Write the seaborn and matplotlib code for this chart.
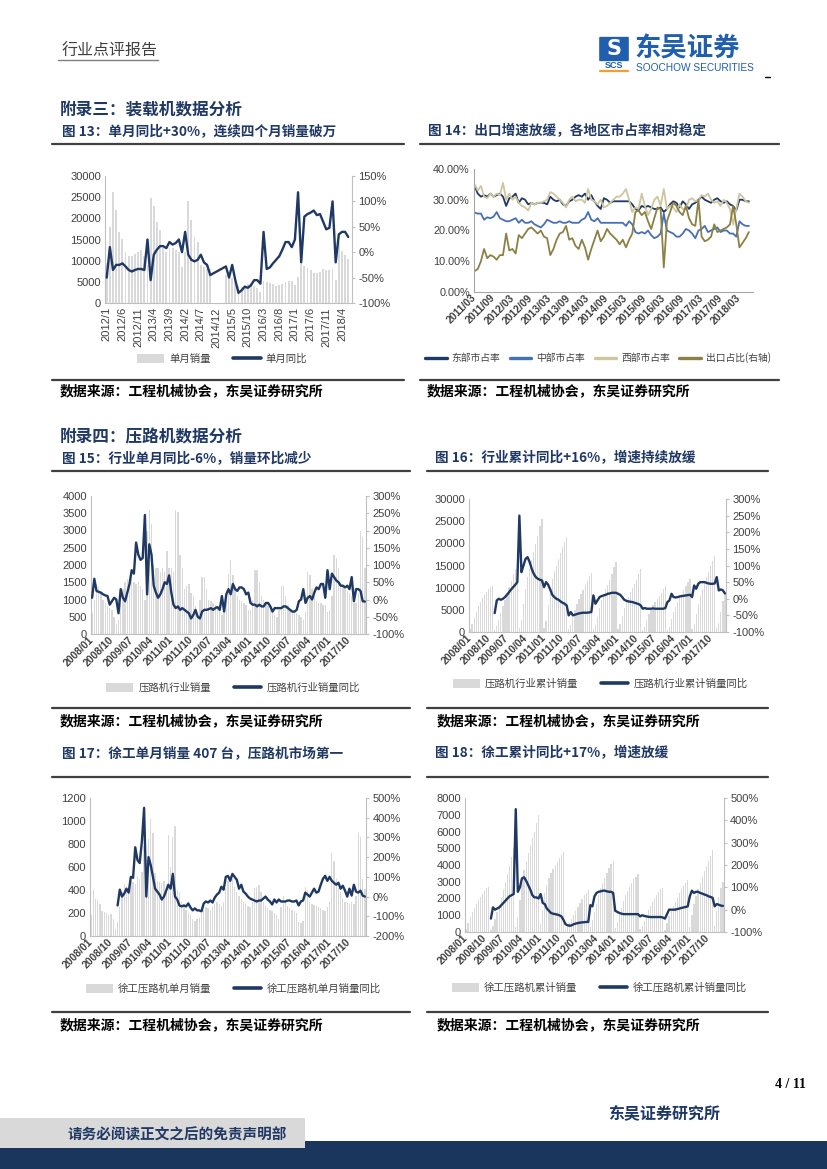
import numpy as np
import pandas as pd
import seaborn as sns
import matplotlib
matplotlib.use('Agg')
import matplotlib.pyplot as plt
from matplotlib.patches import Patch, Rectangle, FancyBboxPatch
from matplotlib.lines import Line2D
from matplotlib import font_manager

nan = np.nan

# ---------------- chart 13: loader single month sales / yoy (2012/1 - 2018/6)
c13_sales = [
    9500, 18000, 26300, 22000, 16800, 15200, 12000, 11000, 11200, 11500, 12000, 12500,
    11000, 9000, 24700, 22800, 19200, 17200, 13000, 12000, 13000, 13000, 12500, 12000,
    8500, 12000, 24000, 19500, 15500, 14500, 9000, 8500, 8000, 8000, nan, nan,
    nan, nan, 6500, 6500, 5800, 5000, 4000, 3800, 4200, 4500, 4800, 4000,
    3500, 2500, 5200, 5000, 4700, 4500, 4000, 4200, 4600, 5000, 5300, 5200,
    4200, 6200, 9200, 8700, 8200, 7900, 7000, 7100, 7400, 8000, 7800, 7700,
    8000, 5400, 14500, 12300, 11300, 10400]
c13_yoy = [
    -50, 10, -35, -25, -25, -22, -28, -35, -38, -35, -33, -33,
    -35, 25, -55, -5, 5, 12, 12, 8, 20, 15, 18, 25,
    0, 40, -5, -15, -18, -15, -5, -20, -25, -45, nan, nan,
    nan, nan, -28, -50, -25, -55, -80, -75, -68, -70, -65, -55,
    -55, -62, 40, -33, -30, -22, -15, -8, 5, 20, 20, 10,
    25, 118, -20, 70, 75, 78, 82, 73, 75, 60, 45, 48,
    100, -20, 35, 40, 40, 30]
c13_labels = ['2012/1', '2012/6', '2012/11', '2013/4', '2013/9', '2014/2', '2014/7', '2014/12',
              '2015/5', '2015/10', '2016/3', '2016/8', '2017/1', '2017/6', '2017/11', '2018/4']

# ---------------- chart 14: regional shares (2011/03 - 2018/06), in %
c14_east = [
    34.5, 32.0, 31.0, 31.5, 31.0, 32.0, 31.0, 31.5, 32.0, 31.0,
    28.0, 30.5, 31.0, 32.0, 29.0, 30.5, 30.0, 28.5, 29.0, 28.5, 29.0, 29.0,
    29.0, 28.5, 31.0, 30.0, 29.5, 30.0, 28.5, 28.0, 29.5, 30.0, 31.0, 31.5,
    31.0, 32.0, 30.0, 31.5, 29.5, 28.0, 27.0, 30.5, 30.0, 29.0, 29.5, 29.5,
    29.5, 29.5, 29.5, 29.5, 28.5, 27.0, 26.5, 28.0, 27.5, 28.0, 27.5, 27.0,
    27.0, 27.5, 26.0, 27.0, 28.5, 29.5, 29.0, 27.5, 29.5, 28.5, 27.0, 28.5,
    29.0, 30.0, 31.0, 30.0, 29.5, 29.0, 30.0, 30.5, 29.5, 29.0, 29.5, 28.5,
    28.0, 26.5, 30.0, 30.0, 29.5, 29.5]
c14_middle = [
    25.8, 25.5, 25.5, 23.5, 24.3, 24.0, 24.5, 26.0, 24.0, 23.5,
    23.0, 23.0, 23.5, 24.0, 22.5, 23.5, 22.5, 22.5, 23.0, 22.0, 21.5, 21.0,
    22.0, 23.5, 23.0, 22.5, 22.5, 23.0, 22.5, 22.5, 23.0, 22.5, 22.5, 22.5,
    23.5, 24.0, 26.0, 23.5, 23.0, 24.0, 22.5, 22.5, 22.5, 22.5, 22.5, 22.5,
    22.5, 22.5, 21.5, 23.0, 22.0, 19.5, 19.0, 19.5, 19.0, 20.0, 18.5, 17.5,
    18.0, 19.0, 25.5, 20.0, 19.5, 19.0, 18.0, 18.0, 19.0, 20.5, 20.0, 19.0,
    17.5, 20.0, 20.5, 21.5, 19.5, 20.0, 20.5, 21.0, 19.5, 20.0, 20.0, 19.0,
    19.0, 18.0, 23.0, 22.0, 21.5, 21.5]
c14_west = [
    35.0, 33.0, 34.5, 31.0, 30.5, 32.0, 31.0, 32.0, 31.5, 35.5,
    30.0, 32.0, 30.0, 31.0, 29.0, 28.0, 27.5, 26.5, 29.0, 28.5, 29.0, 29.0,
    29.5, 30.0, 32.5, 32.0, 31.0, 30.0, 29.0, 27.5, 30.0, 31.0, 29.5, 30.0,
    30.0, 29.0, 33.5, 30.0, 29.5, 28.5, 30.0, 27.5, 28.0, 29.0, 30.0, 31.0,
    31.0, 32.0, 33.5, 30.0, 26.0, 27.5, 27.0, 32.0, 28.0, 25.0, 27.0, 30.0,
    31.0, 28.0, 33.5, 27.0, 28.0, 27.5, 26.0, 28.5, 27.0, 27.0, 30.0, 30.5,
    29.5, 30.0, 31.5, 31.0, 32.0, 30.0, 29.0, 29.5, 28.0, 30.0, 29.0, 27.0,
    22.0, 27.0, 32.0, 31.0, 29.5, 29.0]
c14_export = [
    6.8, 7.5, 10.0, 14.0, 11.0, 12.0, 11.5, 10.5, 12.0, 12.0,
    19.0, 13.5, 14.0, 12.5, 18.5, 17.5, 19.0, 20.5, 21.0, 20.0, 19.0, 20.0,
    18.0, 17.5, 12.0, 14.0, 17.0, 19.0, 19.5, 21.5, 17.0, 17.5, 15.0, 14.0,
    17.0, 14.5, 10.5, 14.0, 17.0, 20.0, 16.5, 18.0, 20.5, 19.0, 18.0, 17.0,
    15.5, 17.0, 14.5, 17.0, 19.0, 26.0, 26.5, 25.0, 26.0, 23.0, 20.5, 24.0,
    27.5, 27.0, 8.0, 23.0, 26.0, 29.0, 28.0, 26.0, 25.0, 28.0, 24.0, 22.0,
    21.5, 30.0, 18.0, 16.5, 17.0, 18.0, 22.0, 19.5, 20.0, 20.5, 21.0, 22.0,
    28.0, 22.0, 14.5, 16.0, 17.5, 19.5]
c14_names = ['东部市占率', '中部市占率', '西部市占率', '出口占比(右轴)']
c14_labels = ['2011/03', '2011/09', '2012/03', '2012/09', '2013/03', '2013/09', '2014/03', '2014/09',
              '2015/03', '2015/09', '2016/03', '2016/09', '2017/03', '2017/09', '2018/03']

# ---------------- roller charts (2008/01 - 2018/05)
roller_labels = ['2008/01', '2008/10', '2009/07', '2010/04', '2011/01', '2011/10', '2012/07',
                 '2013/04', '2014/01', '2014/10', '2015/07', '2016/04', '2017/01', '2017/10']

c15_sales = [
    600, 1000, 1450, 1400, 1200, 1000, 900, 800, 750, 700, 500, 300,
    400, 900, 1300, 1500, 1600, 1500, 1600, 1500, 1450, 1500, 1400, 1300,
    1000, 3000, 3600, 3200, 2000, 1900, 1900, 1800, 1900, 1800, 2400, 1900,
    1900, 1800, 3600, 3550, 2300, 1900, 1300, 1400, 1450, 1200, 1100, 800,
    500, 1000, 1650, 1650, 1300, 1000, 950, 900, 850, 800, 700, 550,
    600, 1000, 1750, 2150, 1700, 1300, 1100, 1000, 950, 900, 850, 700,
    700, 1000, 1850, 1850, 1500, 1100, 1000, 900, 800, 800, 700, 550,
    500, 700, 1400, 1400, 1100, 850, 700, 650, 650, 600, 550, 500,
    400, 650, 1800, 1700, 1300, 1100, 950, 900, 900, 850, 850, 650,
    700, 1100, 2300, 2200, 1900, 1500, 1350, 1300, 1250, 1200, 1100, 900,
    900, 1200, 3000, 2800, 1900]
c15_yoy = [
    5, 60, 25, 22, 20, 15, 12, 10, -15, -5, 5, 0,
    -40, 30, 5, -5, 20, 45, 85, 75, 165, 130, 115, 120,
    245, 15, 160, 130, 40, 20, 5, 15, 30, 50, 45, 70,
    20, -15, -25, -20, -30, -25, -30, -35, -40, -55, -45, -30,
    -50, -55, -35, -30, -30, -28, -25, -30, -25, -22, -30, 10,
    -35, 15, 30, 15, 45, 30, 25, 35, 35, 30, 15, 20,
    -10, -15, -15, -20, -15, -20, -20, -10, -10, -20, -35, -25,
    -25, -25, -25, -20, -20, -25, -30, -35, -35, -30, -5, 0,
    30, -10, 5, 10, 0, 20, 35, 30, 45, 45, 5, 85,
    30, 75, 65, 55, 50, 40, 40, 35, 40, 30, 65, -5,
    30, 30, 25, -5, -6]

c16_cum = [
    600, 1700, 3200, 4600, 5800, 6800, 7600, 8300, 9000, 9600, 10100, 10400,
    400, 1300, 2700, 4200, 5800, 7300, 8800, 10200, 11600, 13000, 14300, 15500,
    1000, 2800, 6400, 9600, 12400, 14300, 16200, 18000, 19900, 21700, 23800, 25500,
    900, 2500, 6100, 9600, 11900, 13700, 15000, 16400, 17800, 19100, 20400, 21500,
    600, 1600, 3300, 5000, 6400, 7500, 8500, 9500, 10500, 11600, 12600, 13400,
    600, 1600, 3400, 5500, 7200, 8500, 9600, 10700, 11800, 13100, 14600, 15900,
    700, 1700, 3600, 5400, 6900, 8000, 9000, 9900, 10800, 11800, 13000, 14100,
    500, 1200, 2600, 4000, 5100, 6000, 6700, 7400, 8100, 8900, 9700, 10400,
    400, 1100, 2900, 4500, 5700, 6700, 7600, 8500, 9400, 10300, 11200, 12000,
    700, 1800, 4100, 6300, 8200, 9700, 11000, 12300, 13600, 14800, 16000, 17200,
    900, 2100, 4500, 7000, 8700]
c16_yoy = [
    nan, nan, nan, nan, nan, nan, nan, nan, nan, nan, nan, nan,
    -43, -5, 0, -3, 0, 5, 12, 20, 28, 35, 42, 50,
    250, 80, 100, 120, 125, 110, 90, 75, 65, 60, 57, 55,
    35, 50, 42, 28, 12, 5, 0, -3, -8, -12, -15, -20,
    -50, -40, -50, -48, -46, -44, -43, -42, -42, -42, -41, -40,
    10, -15, -5, 5, 8, 10, 12, 15, 16, 18, 18, 18,
    15, 12, 5, -3, -6, -8, -9, -10, -12, -14, -16, -20,
    -30, -28, -30, -30, -30, -29, -30, -30, -30, -30, -30, -28,
    -10, -5, 15, 5, 4, 5, 7, 8, 9, 10, 11, 12,
    5, 40, 30, 45, 50, 50, 50, 48, 46, 45, 45, 46,
    65, 25, 28, 25, 16]

c17_sales = [
    180, 400, 320, 310, 280, 220, 210, 200, 180, 190, 150, 60,
    120, 250, 380, 450, 430, 420, 480, 470, 450, 520, 500, 560,
    780, 660, 840, 1020, 900, 550, 480, 470, 460, 480, 450, 880,
    600, 860, 960, 400, 380, 300, 260, 230, 200, 180, 150, 130,
    150, 160, 200, 230, 250, 240, 230, 250, 280, 300, 280, 260,
    300, 420, 480, 520, 500, 430, 380, 350, 320, 300, 280, 260,
    250, 300, 420, 430, 440, 380, 300, 260, 240, 230, 220, 200,
    180, 150, 250, 350, 300, 260, 240, 230, 220, 200, 120, 110,
    130, 430, 400, 300, 280, 270, 260, 250, 240, 230, 220, 250,
    300, 720, 650, 500, 420, 380, 330, 300, 290, 280, 300, 280,
    350, 900, 860, 500, 407]
c17_yoy = [
    nan, nan, nan, nan, nan, nan, nan, nan, nan, nan, nan, nan,
    -45, 35, 0, 15, 40, 20, 100, 95, 250, 185, 170, 280,
    450, 0, 200, 160, 100, 40, 25, 10, -15, 0, 30, 60,
    40, 115, 0, -15, -45, -50, -45, -50, -35, -55, -70, -60,
    -70, -70, -75, -35, -25, -30, -20, -30, -5, 10, 20, 50,
    35, 100, 105, 80, 115, 100, 85, 40, 60, 25, 15, 0,
    -10, -15, -20, -25, -20, -20, -10, 0, -15, -25, -40, -15,
    -30, -15, -25, -25, -25, -20, -20, -25, -25, -20, -45, -25,
    -20, 20, 10, 0, 20, 40, 20, 25, 60, 90, 105, 80,
    100, 80, 70, 60, 70, 40, 55, 30, 0, 40, 5, 60,
    25, 20, 30, 5, 0]

c18_cum = [
    180, 550, 900, 1200, 1450, 1700, 1900, 2100, 2250, 2450, 2600, 2700,
    120, 370, 750, 1200, 1630, 2050, 2530, 3000, 3450, 3970, 4470, 5030,
    300, 900, 1900, 2900, 3700, 4200, 4700, 5200, 5600, 6000, 6500, 7000,
    500, 1300, 2300, 2800, 3200, 3500, 3750, 4000, 4200, 4400, 4600, 4800,
    150, 320, 530, 780, 1030, 1270, 1500, 1750, 2000, 2200, 2350, 2500,
    300, 700, 1200, 1700, 2200, 2600, 2950, 3250, 3550, 3800, 4050, 4250,
    250, 600, 1000, 1450, 1850, 2200, 2450, 2700, 2950, 3150, 3300, 3450,
    150, 350, 650, 1000, 1300, 1550, 1800, 2000, 2200, 2400, 2550, 2650,
    130, 550, 950, 1250, 1550, 1800, 2050, 2300, 2550, 2750, 2950, 3100,
    300, 1000, 1650, 2150, 2550, 2950, 3300, 3650, 3950, 4250, 4550, 4900,
    350, 1250, 2100, 2600, 3000]
c18_yoy = [
    nan, nan, nan, nan, nan, nan, nan, nan, nan, nan, nan, nan,
    -40, 10, 0, 5, 10, 20, 30, 40, 50, 60, 65, 70,
    450, 80, 100, 140, 145, 130, 110, 90, 65, 55, 55, 50,
    70, 30, 25, 5, -5, -15, -18, -20, -22, -25, -30, -45,
    -65, -70, -72, -70, -65, -62, -60, -58, -57, -56, -55, -55,
    20, 15, 60, 75, 80, 82, 85, 85, 82, 80, 80, 75,
    -5, -10, -15, -18, -20, -20, -20, -20, -20, -20, -20, -20,
    -30, -25, -28, -30, -32, -33, -33, -33, -33, -33, -33, -35,
    -40, -20, 0, 0, 0, 0, 3, 5, 8, 10, 12, 15,
    60, 85, 75, 80, 80, 75, 72, 68, 65, 60, 57, 53,
    15, 25, 22, 18, 17]

SOURCE = '数据来源：工程机械协会，东吴证券研究所'

# ---------------- style
GREY = '#d9d9d9'
NAVY = '#1f3864'
AXIS = '#bfbfbf'
TXT = '#404040'
C14_COLORS = {'东部市占率': '#1f3864', '中部市占率': '#4770b3',
              '西部市占率': '#cdc6a0', '出口占比(右轴)': '#8c8045'}

sns.set_style('white')
names = {f.name for f in font_manager.fontManager.ttflist}
NUM = 'Liberation Sans Narrow' if 'Liberation Sans Narrow' in names else 'Liberation Sans'
CJK = 'Noto Sans CJK SC'
plt.rcParams['font.family'] = [NUM, CJK, 'DejaVu Sans']

W, H = 827, 1169
fig = plt.figure(figsize=(W / 100, H / 100), dpi=100)


def box(l, t, r, b):
    return [l / W, 1 - b / H, (r - l) / W, (b - t) / H]


def put(x, y, s, size, color='black', weight='normal', ha='left', family=None):
    fig.text(x / W, 1 - y / H, s, fontsize=size, color=color, fontweight=weight,
             ha=ha, va='center', family=family or [CJK])


def hline(x0, x1, y, color='#404040', lw=1.6):
    fig.add_artist(Line2D([x0 / W, x1 / W], [1 - y / H, 1 - y / H], color=color, lw=lw))


def block(l, t, r, b, color, z=0):
    fig.add_artist(Rectangle((l / W, 1 - b / H), (r - l) / W, (b - t) / H,
                             facecolor=color, edgecolor='none', zorder=z))


def legend(handles, labels, cx, cy, ncol, size, hl=2.6, cs=2.2):
    fig.legend(handles, labels, loc='center', bbox_to_anchor=(cx / W, 1 - cy / H),
               ncol=ncol, frameon=False, prop={'family': CJK, 'size': size},
               labelcolor=TXT, handlelength=hl, handleheight=0.9,
               columnspacing=cs, handletextpad=0.5)


def dual_chart(pos, bars, line, ylim, ystep, y2lim, y2step, step, labels, rot,
               xfs, yfs, xlim, leg_names, leg_xy, xbold=True):
    ax = fig.add_axes(box(*pos))
    k = np.arange(len(bars))
    bdf = pd.DataFrame({'k': k, 'v': bars}).dropna()
    sns.barplot(data=bdf, x='k', y='v', native_scale=True, width=0.6, color=GREY,
                saturation=1, errorbar=None, linewidth=0, ax=ax)
    ax2 = ax.twinx()
    ldf = pd.DataFrame({'k': k, 'v': line}).dropna()
    sns.lineplot(data=ldf, x='k', y='v', color=NAVY, linewidth=1.7, errorbar=None, ax=ax2)

    ax.set_xlim(*xlim)
    ax.set_ylim(*ylim)
    ax2.set_ylim(*y2lim)
    yt = np.arange(ylim[0], ylim[1] + 1, ystep)
    ax.set_yticks(yt)
    ax.set_yticklabels([f'{v:d}' for v in yt])
    y2t = np.arange(y2lim[0], y2lim[1] + 1, y2step)
    ax2.set_yticks(y2t)
    ax2.set_yticklabels([f'{v:d}%' for v in y2t])
    ax.set_xticks(np.arange(len(labels)) * step)
    ax.set_xticklabels(labels, rotation=rot, ha='right', va='center', rotation_mode='anchor',
                       fontsize=xfs, color=TXT, fontweight='bold' if xbold else 'normal')
    for a in (ax, ax2):
        a.set_xlabel('')
        a.set_ylabel('')
        a.spines['top'].set_visible(False)
    ax.spines['right'].set_visible(False)
    ax.spines['left'].set_color(AXIS)
    ax.spines['bottom'].set_color(AXIS)
    ax2.spines['left'].set_visible(False)
    ax2.spines['bottom'].set_visible(False)
    ax2.spines['right'].set_color(AXIS)
    ax.tick_params(axis='y', length=0, labelsize=yfs, labelcolor=TXT, pad=3)
    ax.tick_params(axis='x', length=0, pad=3)
    ax2.tick_params(axis='y', length=2.5, color=AXIS, labelsize=yfs, labelcolor=TXT, pad=2)

    handles = [Patch(facecolor=GREY, edgecolor='none'), Line2D([], [], color=NAVY, lw=2.6)]
    legend(handles, leg_names, leg_xy[0], leg_xy[1], 2, 7.5)
    return ax, ax2


# ---------------- page header
put(62, 51, '行业点评报告', 11.5, color='#404040')
hline(58, 158, 60, color='#7f7f7f', lw=1.0)
fig.add_artist(FancyBboxPatch((600 / W, 1 - 60 / H), 28 / W, 22 / H,
                              boxstyle='round,pad=0.001', facecolor='#1f5fae', edgecolor='none'))
put(614, 49, 'S', 15, color='white', weight='bold', ha='center', family=['DejaVu Sans'])
put(614, 66, 'SCS', 6.5, color='#1f5fae', weight='bold', ha='center', family=['Liberation Sans'])
hline(600, 628, 71, color='#f0a030', lw=1.6)
put(634, 49, '东吴证券', 19, color='#1f5fae', weight='bold')
put(636, 68, 'SOOCHOW SECURITIES', 7.3, color='#1f5fae', family=['Liberation Sans'])
hline(765, 770, 77, color='black', lw=1.0)

# ---------------- row 1 titles
put(60, 110, '附录三：装载机数据分析', 12, color=NAVY, weight='bold')
put(62, 131, '图 13：单月同比+30%，连续四个月销量破万', 9.8, color=NAVY, weight='bold')
put(428, 131, '图 14：出口增速放缓，各地区市占率相对稳定', 9.8, color=NAVY, weight='bold')
hline(52, 404, 144)
hline(420, 779, 144)

# chart 13
dual_chart((105, 176, 352, 303), c13_sales, c13_yoy, (0, 30000), 5000, (-100, 150), 50,
           5, c13_labels, 90, 8, 8, (-0.55, 78.2), ['单月销量', '单月同比'], (222, 359),
           xbold=False)

# chart 14
ax14 = fig.add_axes(box(474, 169, 753, 292))
k14 = np.arange(len(c14_east))
wide = pd.DataFrame({'k': k14, c14_names[0]: c14_east, c14_names[1]: c14_middle,
                     c14_names[2]: c14_west, c14_names[3]: c14_export})
long = wide.melt(id_vars='k', var_name='s', value_name='v')
sns.lineplot(data=long, x='k', y='v', hue='s', palette=C14_COLORS, linewidth=1.3,
             legend=False, errorbar=None, ax=ax14)
ax14.set_xlim(-0.2, 88.3)
ax14.set_ylim(0, 40)
ax14.set_yticks([0, 10, 20, 30, 40])
ax14.set_yticklabels(['0.00%', '10.00%', '20.00%', '30.00%', '40.00%'])
ax14.set_xticks(np.arange(len(c14_labels)) * 6)
ax14.set_xticklabels(c14_labels, rotation=45, ha='right', va='center', rotation_mode='anchor',
                     fontsize=7.5, fontweight='bold', color=TXT)
ax14.set_xlabel('')
ax14.set_ylabel('')
for s in ('top', 'right'):
    ax14.spines[s].set_visible(False)
ax14.spines['left'].set_color('#a6a6a6')
ax14.spines['bottom'].set_color('#a6a6a6')
ax14.tick_params(axis='y', length=0, labelsize=7.8, labelcolor=TXT, pad=3)
ax14.tick_params(axis='x', length=0, pad=3)
legend([Line2D([], [], color=C14_COLORS[n], lw=2.4) for n in c14_names], c14_names,
       598, 358, 4, 7, hl=2.2, cs=1.0)

put(60, 391, SOURCE, 10, weight='bold')
put(427, 391, SOURCE, 10, weight='bold')
hline(52, 404, 380)
hline(420, 779, 380)

# ---------------- row 2
put(60, 437, '附录四：压路机数据分析', 12, color=NAVY, weight='bold')
put(62, 458, '图 15：行业单月同比-6%，销量环比减少', 9.8, color=NAVY, weight='bold')
put(435, 458, '图 16：行业累计同比+16%，增速持续放缓', 9.8, color=NAVY, weight='bold')
hline(52, 410, 471)
hline(427, 768, 471)

dual_chart((91, 496, 366, 634), c15_sales, c15_yoy, (0, 4000), 500, (-100, 300), 50,
           9, roller_labels, 45, 7.5, 8, (-0.5, 124.5),
           ['压路机行业销量', '压路机行业销量同比'], (233, 688))
dual_chart((469, 499, 726, 632), c16_cum, c16_yoy, (0, 30000), 5000, (-100, 300), 50,
           9, roller_labels, 45, 7.5, 8, (-0.5, 124.5),
           ['压路机行业累计销量', '压路机行业累计销量同比'], (600, 684))

hline(52, 410, 708)
hline(427, 768, 708)
put(60, 721, SOURCE, 10, weight='bold')
put(437, 721, SOURCE, 10, weight='bold')

# ---------------- row 3
put(62, 753, '图 17：徐工单月销量 407 台，压路机市场第一', 9.8, color=NAVY, weight='bold')
put(435, 753, '图 18：徐工累计同比+17%，增速放缓', 9.8, color=NAVY, weight='bold')
hline(52, 410, 777)
hline(427, 768, 777)

dual_chart((90, 798, 366, 936), c17_sales, c17_yoy, (0, 1200), 200, (-200, 500), 100,
           9, roller_labels, 45, 7.5, 8, (-0.5, 124.5),
           ['徐工压路机单月销量', '徐工压路机单月销量同比'], (233, 989))
dual_chart((465, 798, 724, 932), c18_cum, c18_yoy, (0, 8000), 1000, (-100, 500), 100,
           9, roller_labels, 45, 7.5, 8, (-0.5, 124.5),
           ['徐工压路机累计销量', '徐工压路机累计销量同比'], (599, 988))

hline(52, 410, 1012)
hline(427, 768, 1012)
put(60, 1025, SOURCE, 10, weight='bold')
put(437, 1025, SOURCE, 10, weight='bold')

# ---------------- footer
put(806, 1085, '4 / 11', 10, weight='bold', ha='right', family=['Liberation Serif'])
put(608, 1113, '东吴证券研究所', 11.5, color=NAVY, weight='bold')
block(0, 1141, W, H, '#1b365d', z=0)
block(0, 1118, 305, 1148, '#d9d9d9', z=1)
put(68, 1134, '请务必阅读正文之后的免责声明部', 10.5, color=NAVY, weight='bold')

fig.savefig('out.png', dpi=100)
